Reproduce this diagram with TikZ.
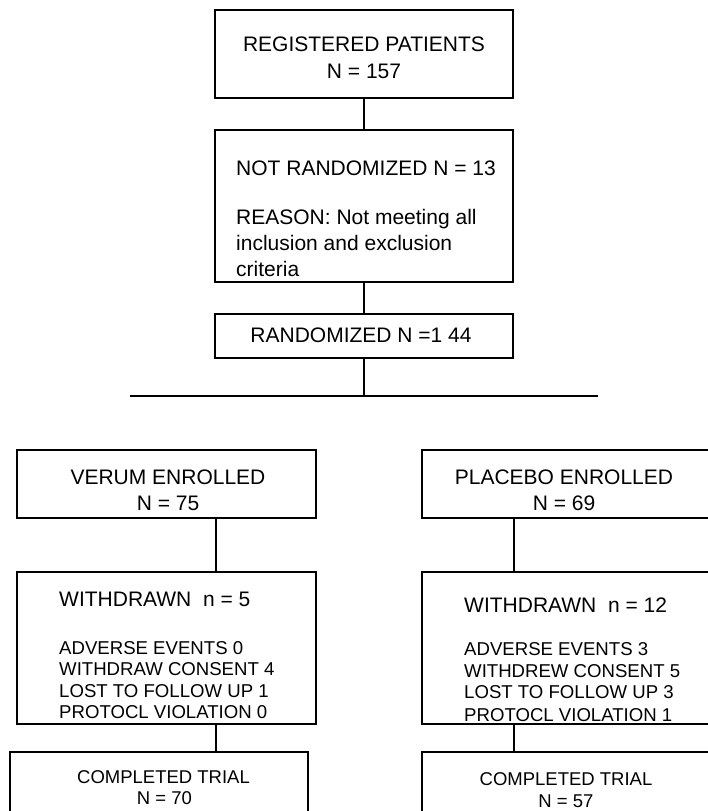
\documentclass[tikz,border=0pt]{standalone}
\usepackage{fontspec}
\setmainfont{Liberation Sans}
\begin{document}
\begin{tikzpicture}[x=1pt,y=-1pt,
  box/.style={draw, line width=1.4pt, inner sep=0pt, outer sep=0pt, rectangle},
  conn/.style={line width=1.4pt},
  big/.style={font=\fontsize{21}{25}\selectfont, inner sep=0pt, anchor=base},
  bigl/.style={font=\fontsize{21}{25}\selectfont, inner sep=0pt, anchor=base west},
  small/.style={font=\fontsize{18.6}{21.5}\selectfont, inner sep=0pt, anchor=base west},
  smallc/.style={font=\fontsize{18.5}{21.5}\selectfont, inner sep=0pt, anchor=base},
]
\useasboundingbox (0,0) rectangle (708,811);
\fill[white] (0,0) rectangle (708,811);

% boxes
\node[box, minimum width=298pt, minimum height=88pt] (reg) at (364,54) {};
\node[box, minimum width=298pt, minimum height=152pt] (notrand) at (364,206) {};
\node[box, minimum width=298pt, minimum height=44pt] (rand) at (364,336) {};
\node[box, minimum width=299pt, minimum height=68pt] (verum) at (166.5,484) {};
\node[box, minimum width=300pt, minimum height=68pt] (placebo) at (572,484) {};
\node[box, minimum width=299pt, minimum height=152pt] (wv) at (166.5,648) {};
\node[box, minimum width=300pt, minimum height=152pt] (wp) at (572,648) {};
\node[box, minimum width=298pt, minimum height=88pt] (cv) at (159,796) {};
\node[box, minimum width=300pt, minimum height=88pt] (cp) at (572,796) {};

% connector coordinates
\coordinate (hl) at (130,396);
\coordinate (hr) at (598,396);
\coordinate (hm) at (364,396);
\coordinate (vx) at (216,0);
\coordinate (px) at (514,0);

% connectors
\draw[conn] (reg.south) -- (notrand.north);
\draw[conn] (notrand.south) -- (rand.north);
\draw[conn] (rand.south) -- (hm);
\draw[conn] (hl) -- (hr);
\draw[conn] (verum.south -| vx) -- (wv.north -| vx);
\draw[conn] (wv.south -| vx) -- (cv.north -| vx);
\draw[conn] (placebo.south -| px) -- (wp.north -| px);
\draw[conn] (wp.south -| px) -- (cp.north -| px);

% texts
\node[big] (t1) at (364,51.5) {REGISTERED PATIENTS};
\node[big] (t2) at (364,78) {N = 157};
\node[bigl] (t3) at (236,175) {NOT RANDOMIZED N = 13};
\node[bigl] (t4) at (236,224) {REASON: Not meeting all};
\node[bigl] (t5) at (236,250) {inclusion and exclusion};
\node[bigl] (t6) at (236,276) {criteria};
\node[big] (t7) at (361,342.5) {RANDOMIZED N =1 44};
\node[big] (t8) at (168,484.5) {VERUM ENROLLED};
\node[big] (t9) at (168,510.5) {N = 75};
\node[big] (t10) at (564,484.5) {PLACEBO ENROLLED};
\node[big] (t11) at (564,510.5) {N = 69};
\node[bigl] (t12) at (59,606.5) {WITHDRAWN\ \ n = 5};
\node[small] (t13) at (59,654) {ADVERSE EVENTS 0};
\node[small] (t14) at (59,675) {WITHDRAW CONSENT 4};
\node[small] (t15) at (59,697) {LOST TO FOLLOW UP 1};
\node[small] (t16) at (59,718) {PROTOCL VIOLATION 0};
\node[bigl] (t17) at (464,612.5) {WITHDRAWN\ \ n = 12};
\node[small] (t18) at (464,655) {ADVERSE EVENTS 3};
\node[small] (t19) at (464,677) {WITHDREW CONSENT 5};
\node[small] (t20) at (464,698) {LOST TO FOLLOW UP 3};
\node[small] (t21) at (464,721) {PROTOCL VIOLATION 1};
\node[smallc] (t22) at (163.5,783) {COMPLETED TRIAL};
\node[smallc] (t23) at (164.5,804) {N = 70};
\node[smallc] (t24) at (566,785) {COMPLETED TRIAL};
\node[smallc] (t25) at (566,807) {N = 57};
\end{tikzpicture}
\end{document}
